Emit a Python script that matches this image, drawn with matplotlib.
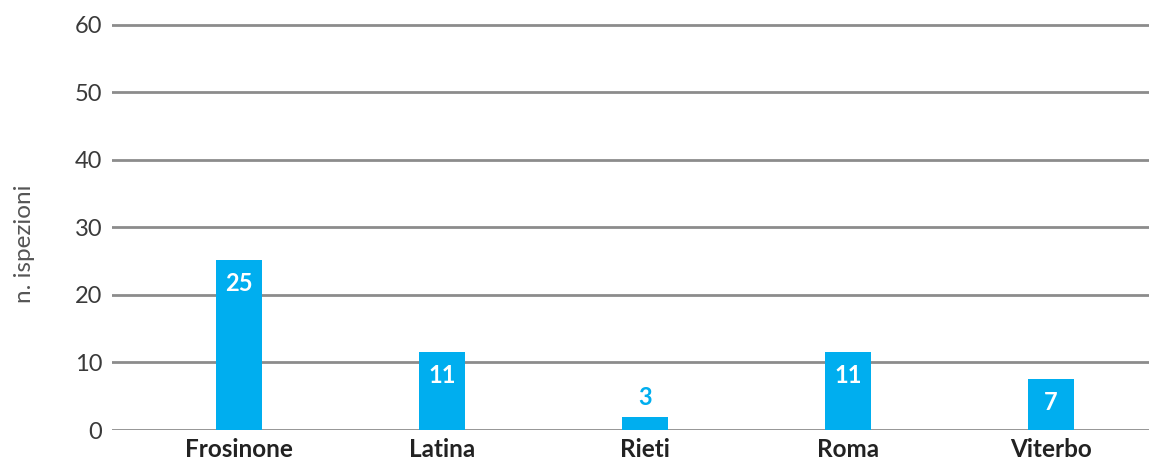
import matplotlib
matplotlib.use("Agg")
import matplotlib.pyplot as plt

# data
provinces = ["Frosinone", "Latina", "Rieti", "Roma", "Viterbo"]
bar_heights = [25.2, 11.5, 1.9, 11.5, 7.6]
value_labels = ["25", "11", "3", "11", "7"]
y_ticks = [0, 10, 20, 30, 40, 50, 60]

blue = "#00AEEF"
grid_grey = "#8C8C8C"

plt.rcParams["font.family"] = ["Lato", "DejaVu Sans"]

fig = plt.figure(figsize=(11.49, 4.61), dpi=100)
ax = fig.add_axes([112 / 1149, 31 / 461, 1 - 112 / 1149, 405.5 / 461])

x = list(range(len(provinces)))
ax.bar(x, bar_heights, width=0.227, color=blue, zorder=3)

for xi, h, lab in zip(x, bar_heights, value_labels):
    if h > 5:
        ax.text(xi, h - 1.8, lab, ha="center", va="top", color="white",
                fontsize=17, fontweight="bold", zorder=4)
    else:
        ax.text(xi, h + 1.2, lab, ha="center", va="bottom", color=blue,
                fontsize=17, fontweight="bold", zorder=4)

ax.set_xlim(-0.626, 4.483)
ax.set_ylim(0, 60)
ax.set_yticks(y_ticks)
ax.set_xticks(x)
ax.set_xticklabels(provinces, fontsize=17.5, fontweight="bold", color="#222222")
ax.tick_params(axis="y", length=0, pad=7, labelsize=17, labelcolor="#3a3a3a")
ax.tick_params(axis="x", length=0, pad=6)

ax.grid(axis="y", color=grid_grey, lw=2, zorder=1)
ax.set_axisbelow(True)
for s in ax.spines.values():
    s.set_visible(False)

ax.set_ylabel("n. ispezioni", fontsize=17.5, color="#555555")
ax.yaxis.set_label_coords(-0.074, 0.46)

fig.savefig("out.png", dpi=100)
